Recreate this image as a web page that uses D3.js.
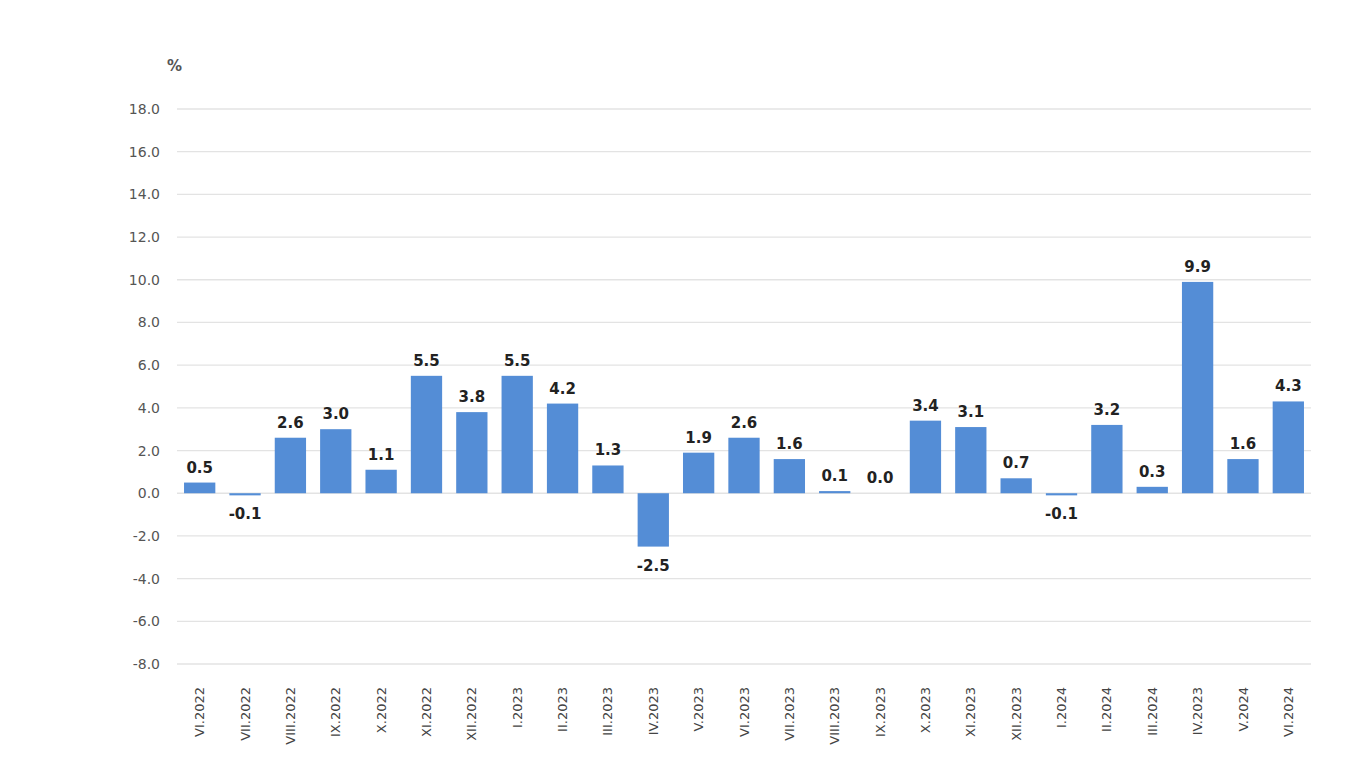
<!DOCTYPE html>
<html><head><meta charset="utf-8">
<script src="https://cdn.jsdelivr.net/npm/d3@7"></script>
<style>body{margin:0;background:#fff}</style>
</head><body>
<svg id="c" width="1366" height="768"></svg>
<script>
const categories = ["VI.2022","VII.2022","VIII.2022","IX.2022","X.2022","XI.2022","XII.2022","I.2023","II.2023","III.2023","IV.2023","V.2023","VI.2023","VII.2023","VIII.2023","IX.2023","X.2023","XI.2023","XII.2023","I.2024","II.2024","III.2024","IV.2023","V.2024","VI.2024"];
const values = [0.5,-0.1,2.6,3.0,1.1,5.5,3.8,5.5,4.2,1.3,-2.5,1.9,2.6,1.6,0.1,0.0,3.4,3.1,0.7,-0.1,3.2,0.3,9.9,1.6,4.3];
const yTicks = [-8,-6,-4,-2,0,2,4,6,8,10,12,14,16,18];

(function(){
const svg = d3.select("#c");
const pl = 177, pr = 1311, pt = 109, pb = 664;
const fmt = d => d.toFixed(1);
const y = d3.scaleLinear().domain([-8,18]).range([pb, pt]);
const idx = d3.range(categories.length);
const x = d3.scaleBand().domain(idx).range([pl, pr]).paddingInner(0.31).paddingOuter(0.155);

svg.append("g").selectAll("line").data(yTicks).join("line")
  .attr("x1", pl).attr("x2", pr)
  .attr("y1", d => y(d)).attr("y2", d => y(d))
  .attr("stroke", "#e3e3e3").attr("stroke-width", 1.3);

const yAxis = d3.axisLeft(y).tickValues(yTicks).tickFormat(fmt).tickSize(0).tickPadding(17);
const ga = svg.append("g").attr("transform", `translate(${pl},0)`).call(yAxis);
ga.select(".domain").remove();
ga.selectAll("text").attr("font-family", "DejaVu Sans, Verdana, sans-serif").attr("font-size", 14).attr("fill", "#555");

svg.append("text").attr("x", 167).attr("y", 71).text("%")
  .attr("font-family", "DejaVu Sans, Verdana, sans-serif").attr("font-size", 15).attr("font-weight", "bold").attr("fill", "#555");

svg.append("g").selectAll("rect").data(values).join("rect")
  .attr("x", (d,i) => x(i))
  .attr("width", x.bandwidth())
  .attr("y", d => y(Math.max(0,d)))
  .attr("height", d => Math.abs(y(d) - y(0)))
  .attr("fill", "#548dd6");

svg.append("g").selectAll("text").data(values).join("text")
  .attr("x", (d,i) => x(i) + x.bandwidth()/2)
  .attr("y", d => d < 0 ? y(d) + 24 : y(d) - 10)
  .attr("text-anchor", "middle")
  .attr("font-family", "DejaVu Sans, Verdana, sans-serif")
  .attr("font-size", 15).attr("font-weight", "bold").attr("fill", "#222")
  .text(fmt);

const xAxis = d3.axisBottom(x).tickSize(0).tickPadding(0).tickFormat(i => categories[i]);
const gx = svg.append("g").attr("transform", `translate(0,${pb})`).call(xAxis);
gx.select(".domain").remove();
gx.selectAll("text")
  .attr("transform", "translate(0,23) rotate(-90)")
  .attr("dy", "0.35em").attr("x", 0).attr("y", 0)
  .attr("text-anchor", "end")
  .attr("font-family", "DejaVu Sans, Tahoma, sans-serif").attr("font-size", 13).attr("fill", "#444");
})();
</script>
</body></html>
